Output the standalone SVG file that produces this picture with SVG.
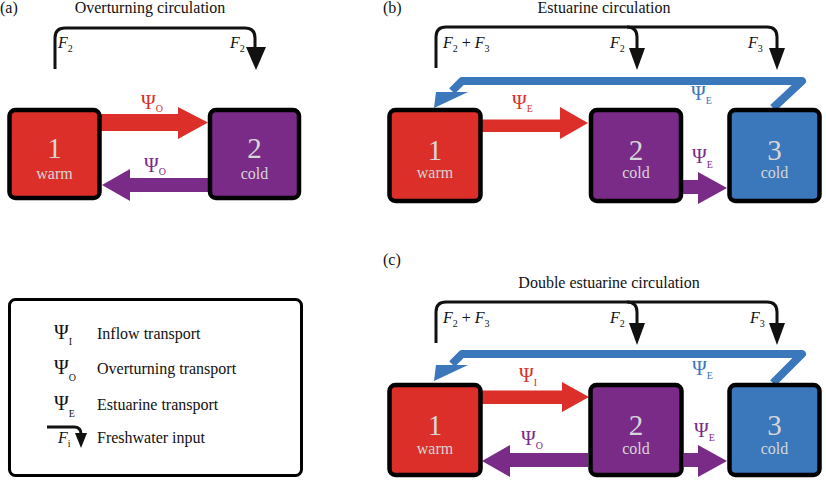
<svg xmlns="http://www.w3.org/2000/svg" width="826" height="481" viewBox="0 0 826 481">
<style>
text{font-family:"Liberation Serif","Times New Roman",serif;}
.t{font-size:16px;fill:#111;}
.num{font-size:29px;fill:#d6d6d6;text-anchor:middle;}
.lab{font-size:16px;fill:#d6d6d6;text-anchor:middle;}
.psi{font-size:20px;}
.sub{font-size:10px;}
.f{font-size:16px;font-style:italic;fill:#111;}
.box{stroke:#000;stroke-width:4.5;}
.red{fill:#dc2f2a;}
.pur{fill:#7a2b87;}
.blu{fill:#3b77bb;}
.fw{fill:none;stroke:#111;stroke-width:3;}
.bl{fill:none;stroke:#3b77bb;stroke-width:8;stroke-linejoin:round;}
</style>

<!-- titles -->
<text class="t" x="0" y="13">(a)</text>
<text class="t" x="150" y="13" text-anchor="middle">Overturning circulation</text>
<text class="t" x="383" y="13">(b)</text>
<text class="t" x="604" y="13" text-anchor="middle">Estuarine circulation</text>
<text class="t" x="383" y="265">(c)</text>
<text class="t" x="609" y="288" text-anchor="middle">Double estuarine circulation</text>

<g id="connectors">
  <!-- (a) freshwater -->
  <path class="fw" d="M55,69 V38 Q55,28 65,28 H245 Q255,28 255,38 V50"/>
  <polygon points="246,47 266,47 256,70" fill="#111"/>
  <!-- (a) transports -->
  <polygon class="red" points="101,114 178,114 178,107 208,122.5 178,139 178,131 101,131"/>
  <polygon class="pur" points="209,178 130,178 130,169 102,185 130,201 130,192 209,192"/>

  <!-- (b) freshwater -->
  <path class="fw" d="M436,68 V37 Q436,27 446,27 H767 Q777,27 777,37 V50"/>
  <path class="fw" d="M627,27 Q637,27 637,37 V50"/>
  <polygon points="629,48 645,48 637,70" fill="#111"/>
  <polygon points="769,48 785,48 777,70" fill="#111"/>
  <!-- (b) transports -->
  <path class="bl" d="M773,108 L802,81 H462 L452,91"/>
  <polygon class="blu" points="436,92 468,92 434,108"/>
  <polygon class="red" points="482,119.5 560,119.5 560,107 588,123 560,139 560,132 482,132"/>
  <polygon class="pur" points="683,180 698,180 698,172 727,188 698,204 698,194 683,194"/>

  <!-- (c) freshwater -->
  <path class="fw" d="M436,343 V312 Q436,302 446,302 H767 Q777,302 777,312 V325"/>
  <path class="fw" d="M627,302 Q637,302 637,312 V325"/>
  <polygon points="629,323 645,323 637,345" fill="#111"/>
  <polygon points="769,323 785,323 777,345" fill="#111"/>
  <!-- (c) transports -->
  <path class="bl" d="M773,383 L802,354 H462 L452,364"/>
  <polygon class="blu" points="436,365 468,365 434,381"/>
  <polygon class="red" points="482,390.5 562,390.5 562,382 589,397 562,412 562,404 482,404"/>
  <polygon class="pur" points="588,453 510,453 510,445 482,461 510,477 510,467 588,467"/>
  <polygon class="pur" points="684,453 698,453 698,445 727,461 698,477 698,467 684,467"/>
</g>

<!-- (a) nodes -->
<g id="a1"><rect class="box red" x="9.5" y="110" width="90" height="88" rx="6"/>
  <text class="num" x="54.5" y="158">1</text><text class="lab" x="54.5" y="179">warm</text></g>
<g id="a2"><rect class="box pur" x="210" y="110" width="89" height="88" rx="6"/>
  <text class="num" x="254.5" y="158">2</text><text class="lab" x="254.5" y="179">cold</text></g>

<!-- (b) nodes -->
<g id="b1"><rect class="box red" x="389.5" y="110" width="91" height="91" rx="6"/>
  <text class="num" x="435" y="160">1</text><text class="lab" x="435" y="178">warm</text></g>
<g id="b2"><rect class="box pur" x="591" y="110" width="90" height="91" rx="6"/>
  <text class="num" x="636" y="160">2</text><text class="lab" x="636" y="178">cold</text></g>
<g id="b3"><rect class="box blu" x="729.5" y="110" width="90" height="91" rx="6"/>
  <text class="num" x="774.5" y="160">3</text><text class="lab" x="774.5" y="178">cold</text></g>

<!-- (c) nodes -->
<g id="c1"><rect class="box red" x="389.5" y="385" width="91" height="90" rx="6"/>
  <text class="num" x="435" y="435">1</text><text class="lab" x="435" y="454">warm</text></g>
<g id="c2"><rect class="box pur" x="590.5" y="385" width="91" height="90" rx="6"/>
  <text class="num" x="636" y="435">2</text><text class="lab" x="636" y="454">cold</text></g>
<g id="c3"><rect class="box blu" x="729.5" y="385" width="90" height="90" rx="6"/>
  <text class="num" x="774.5" y="435">3</text><text class="lab" x="774.5" y="454">cold</text></g>

<!-- labels -->
<g id="labels">
  <text class="f" x="58" y="48">F<tspan class="sub" font-style="normal" dy="4">2</tspan></text>
  <text class="f" x="230" y="48">F<tspan class="sub" font-style="normal" dy="4">2</tspan></text>
  <text class="f" x="443" y="48">F<tspan class="sub" font-style="normal" dy="4">2</tspan><tspan font-style="normal" dy="-4"> + </tspan>F<tspan class="sub" font-style="normal" dy="4">3</tspan></text>
  <text class="f" x="610" y="48">F<tspan class="sub" font-style="normal" dy="4">2</tspan></text>
  <text class="f" x="748" y="48">F<tspan class="sub" font-style="normal" dy="4">3</tspan></text>
  <text class="f" x="443" y="323">F<tspan class="sub" font-style="normal" dy="4">2</tspan><tspan font-style="normal" dy="-4"> + </tspan>F<tspan class="sub" font-style="normal" dy="4">3</tspan></text>
  <text class="f" x="610" y="323">F<tspan class="sub" font-style="normal" dy="4">2</tspan></text>
  <text class="f" x="750" y="323">F<tspan class="sub" font-style="normal" dy="4">3</tspan></text>

  <text class="psi" fill="#dc2f2a" x="141" y="109">Ψ<tspan class="sub" dy="3">O</tspan></text>
  <text class="psi" fill="#7a2b87" x="144" y="172">Ψ<tspan class="sub" dy="3">O</tspan></text>
  <text class="psi" fill="#dc2f2a" x="512" y="109">Ψ<tspan class="sub" dy="3">E</tspan></text>
  <text class="psi" fill="#3b77bb" x="691" y="100">Ψ<tspan class="sub" dy="4">E</tspan></text>
  <text class="psi" fill="#7a2b87" x="692" y="163">Ψ<tspan class="sub" dy="5">E</tspan></text>
  <text class="psi" fill="#dc2f2a" x="519" y="382">Ψ<tspan class="sub" dy="4">I</tspan></text>
  <text class="psi" fill="#3b77bb" x="692" y="375">Ψ<tspan class="sub" dy="4">E</tspan></text>
  <text class="psi" fill="#7a2b87" x="521" y="445">Ψ<tspan class="sub" dy="4">O</tspan></text>
  <text class="psi" fill="#7a2b87" x="694" y="437">Ψ<tspan class="sub" dy="4">E</tspan></text>
</g>

<!-- legend -->
<g id="legend">
  <rect x="9.5" y="299.5" width="292" height="176" rx="6" fill="#fff" stroke="#000" stroke-width="3"/>
  <text class="psi" fill="#111" x="54" y="339">Ψ<tspan class="sub" dy="6">I</tspan></text>
  <text class="t" x="97" y="339">Inflow transport</text>
  <text class="psi" fill="#111" x="54" y="374">Ψ<tspan class="sub" dy="7">O</tspan></text>
  <text class="t" x="97" y="374">Overturning transport</text>
  <text class="psi" fill="#111" x="54" y="410">Ψ<tspan class="sub" dy="7">E</tspan></text>
  <text class="t" x="97" y="410">Estuarine transport</text>
  <path class="fw" d="M47,427 H74 Q81,427 81,434 V436"/>
  <polygon points="75,433 87,433 81,448" fill="#111"/>
  <text class="f" x="58" y="443">F<tspan class="sub" font-style="normal" dy="4">i</tspan></text>
  <text class="t" x="97" y="443">Freshwater input</text>
</g>
</svg>
